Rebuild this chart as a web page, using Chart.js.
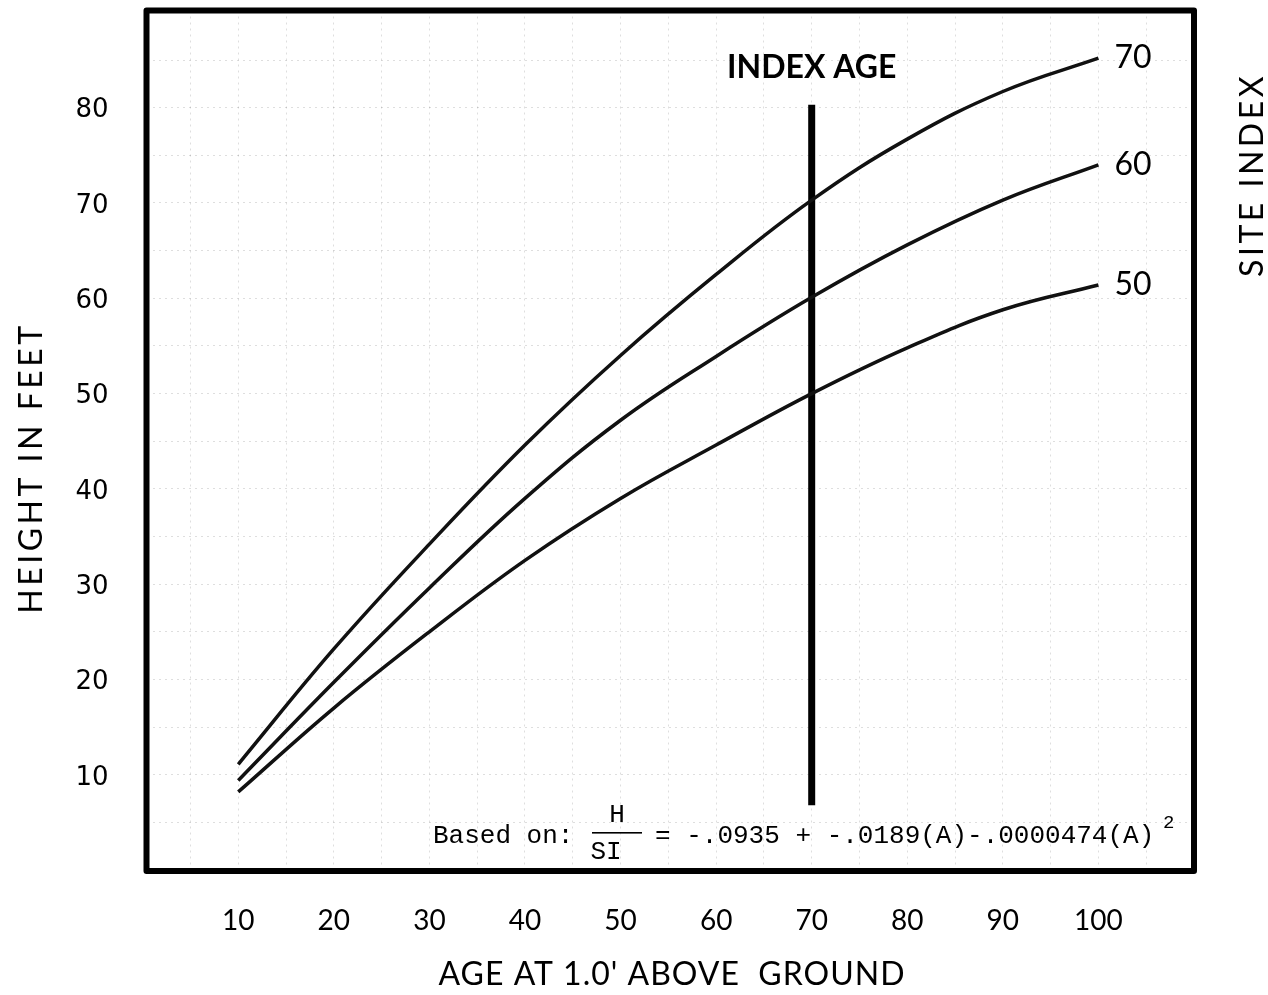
<!DOCTYPE html>
<html lang="en">
<head>
  <meta charset="UTF-8" />
  <title>Site Index Curves</title>
  <style>
    * { margin: 0; padding: 0; box-sizing: border-box; }
    body { background: #fff; width: 1268px; height: 995px; overflow: hidden; }
    canvas { display: block; }
  </style>
</head>
<body>
  <canvas id="siteChart" width="1268" height="995"></canvas>

  <script src="https://cdn.jsdelivr.net/npm/chart.js"></script>
  <script>
    // values (height in feet at each age)
    const ages = [10, 20, 30, 40, 50, 60, 70, 80, 90, 100];
    const site70 = [11.1, 23.2, 34.2, 44.6, 54.0, 62.5, 70.3, 76.7, 81.7, 85.2];
    const site60 = [9.4, 19.7, 29.6, 39.0, 47.2, 53.9, 60.1, 65.6, 70.3, 74.0];
    const site50 = [8.2, 17.0, 25.0, 32.5, 39.0, 44.6, 50.0, 54.8, 58.8, 61.4];
    const siteLabels = ['70', '60', '50'];

    const xTickLabels = [10, 20, 30, 40, 50, 60, 70, 80, 90, 100];
    const yTickLabels = [10, 20, 30, 40, 50, 60, 70, 80];

    const indexAge = 70;
    const indexLineTop = 80.3;
    const indexLineBottom = 6.8;

    const toPoints = arr => arr.map((h, i) => ({ x: ages[i], y: h }));

    // grid every 5 units, labels every 10
    const gridX = [];
    for (let v = 5; v < 110; v += 5) gridX.push(v);
    const gridY = [];
    for (let v = 5; v < 90; v += 5) gridY.push(v);

    const curve = (arr) => ({
      data: toPoints(arr),
      borderColor: '#111',
      borderWidth: 3.5,
      pointRadius: 0,
      tension: 0.4,
      fill: false
    });

    const paperText = {
      id: 'paperText',
      afterDraw(chart) {
        const { ctx, chartArea: a, scales: { x, y } } = chart;
        ctx.save();

        // heavy frame
        ctx.strokeStyle = '#000';
        ctx.lineWidth = 6;
        ctx.lineJoin = 'round';
        ctx.strokeRect(a.left, a.top, a.right - a.left, a.bottom - a.top);

        ctx.fillStyle = '#000';
        ctx.textBaseline = 'middle';

        // index age caption
        ctx.font = 'bold 32px Lato';
        ctx.textAlign = 'center';
        ctx.fillText('INDEX AGE', x.getPixelForValue(indexAge), 68);

        // site index numbers at the curve ends
        ctx.font = '32px Lato';
        ctx.textAlign = 'left';
        [site70, site60, site50].forEach((s, i) => {
          const last = s.length - 1;
          ctx.fillText(siteLabels[i], x.getPixelForValue(ages[last]) + 16, y.getPixelForValue(s[last]));
        });

        // axis titles
        ctx.textAlign = 'center';
        ctx.save();
        ctx.translate(32, 468);
        ctx.rotate(-Math.PI / 2);
        ctx.font = '32px Lato';
        ctx.letterSpacing = '3.5px';
        ctx.fillText('HEIGHT IN FEET', 0, 0);
        ctx.restore();

        ctx.save();
        ctx.translate(1253, 175);
        ctx.rotate(-Math.PI / 2);
        ctx.font = '32px Lato';
        ctx.letterSpacing = '3.5px';
        ctx.fillText('SITE INDEX', 0, 0);
        ctx.restore();

        ctx.save();
        ctx.font = '32px Lato';
        ctx.letterSpacing = '1px';
        ctx.fillText("AGE AT 1.0' ABOVE  GROUND", 672, 975);
        ctx.restore();

        // equation
        ctx.textBaseline = 'alphabetic';
        ctx.font = '26px "Liberation Mono", monospace';
        ctx.textAlign = 'left';
        ctx.fillText('Based on:', 433, 843);
        ctx.textAlign = 'center';
        ctx.fillText('H', 617, 822);
        ctx.fillText('SI', 606, 859);
        ctx.fillRect(592, 832, 50, 1.6);
        ctx.textAlign = 'left';
        ctx.fillText('= -.0935 + -.0189(A)-.0000474(A)', 655, 843);
        ctx.font = '19px "Liberation Mono", monospace';
        ctx.fillText('2', 1163, 828);

        ctx.restore();
      }
    };

    const ctx = document.getElementById('siteChart').getContext('2d');
    const siteChart = new Chart(ctx, {
      type: 'line',
      data: {
        datasets: [
          curve(site70),
          curve(site60),
          curve(site50),
          {
            data: [{ x: indexAge, y: indexLineBottom }, { x: indexAge, y: indexLineTop }],
            borderColor: '#000',
            borderWidth: 7,
            pointRadius: 0
          }
        ]
      },
      options: {
        responsive: false,
        animation: false,
        devicePixelRatio: 1,
        layout: { autoPadding: false, padding: { left: 0, top: 10.5, right: 74, bottom: 0 } },
        plugins: {
          legend: { display: false },
          tooltip: { enabled: false }
        },
        scales: {
          x: {
            type: 'linear',
            min: 0.4,
            max: 110,
            afterBuildTicks: s => { s.ticks = gridX.map(v => ({ value: v })); },
            afterFit: s => { s.height = 124; s.paddingLeft = 0; s.paddingRight = 0; },
            ticks: {
              autoSkip: false,
              maxRotation: 0,
              padding: 33,
              color: '#000',
              font: { family: 'Lato', size: 28 },
              callback: v => xTickLabels.includes(v) ? String(v) : ''
            },
            grid: { color: 'rgba(0,0,0,0.13)', drawTicks: false, lineWidth: 1 },
            border: { display: false, dash: [2, 4] }
          },
          y: {
            min: -0.1,
            max: 90.2,
            afterBuildTicks: s => { s.ticks = gridY.map(v => ({ value: v })); },
            afterFit: s => { s.width = 146.5; s.paddingTop = 0; s.paddingBottom = 0; },
            ticks: {
              autoSkip: false,
              padding: 38,
              labelOffset: 3,
              color: '#000',
              font: { family: 'DejaVu Sans', size: 26 },
              callback: v => yTickLabels.includes(v) ? String(v) : ''
            },
            grid: { color: 'rgba(0,0,0,0.13)', drawTicks: false, lineWidth: 1 },
            border: { display: false, dash: [2, 4] }
          }
        }
      },
      plugins: [paperText]
    });
  </script>
</body>
</html>
